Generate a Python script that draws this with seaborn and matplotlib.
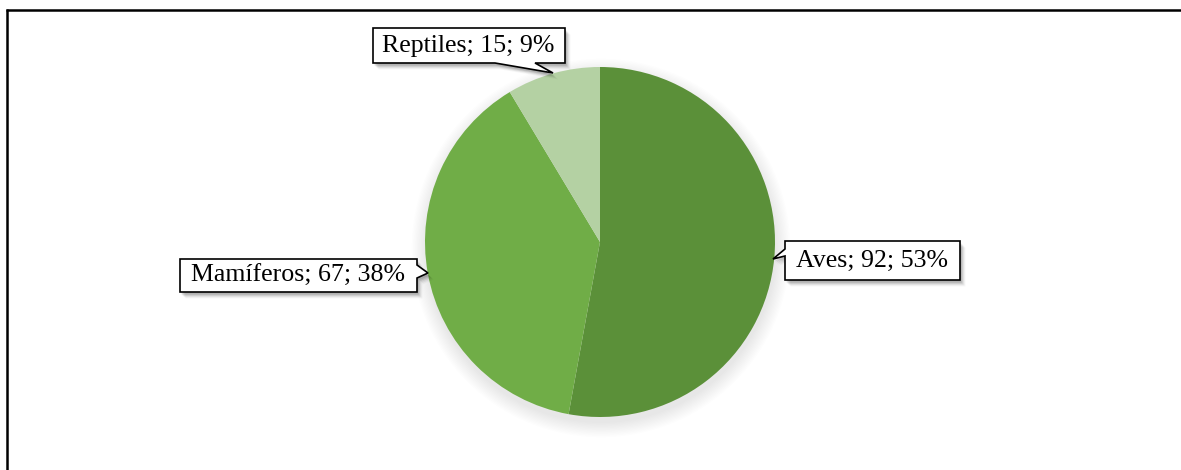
import matplotlib
matplotlib.use("Agg")
import matplotlib.pyplot as plt
from matplotlib.patches import Polygon, Circle
import seaborn as sns

# Species counts by class
categories = ["Aves", "Mamíferos", "Reptiles"]
counts = [92, 67, 15]
percent_labels = ["53%", "38%", "9%"]

sns.set_theme(style="white")
plt.rcParams["font.family"] = ["Liberation Serif", "DejaVu Serif"]

colors = sns.color_palette(["#5b9039", "#70ad47", "#b4d1a3"])

W, H = 1181, 470
fig = plt.figure(figsize=(W / 100, H / 100), dpi=100)
ax = fig.add_axes([0, 0, 1, 1])


def Y(py):
    return H - py


cx, cy, r = 600, 242, 175

# faint soft shadow under the pie
for k in range(12):
    ax.add_patch(Circle((cx + 1, Y(cy + 6)), r + k * 1.3, facecolor="black",
                        alpha=0.008, edgecolor="none", zorder=1))

ax.pie(counts, colors=colors, startangle=90, counterclock=False,
       center=(cx, Y(cy)), radius=r, frame=True,
       wedgeprops=dict(linewidth=0, zorder=2))
ax.set_xlim(0, W)
ax.set_ylim(0, H)
ax.set_aspect("equal")
ax.axis("off")

# callout outlines (pixel coords, y downward) and text centres
callouts = {
    "Reptiles": dict(poly=[(373, 28), (565, 28), (565, 63), (535, 63), (553, 73),
                           (495, 63), (373, 63)], text=(468, 46)),
    "Aves": dict(poly=[(785, 241), (960, 241), (960, 280), (785, 280), (785, 256),
                       (773, 259), (785, 249)], text=(872, 261)),
    "Mamíferos": dict(poly=[(180, 259), (417, 259), (417, 265), (428, 273),
                            (417, 278), (417, 292), (180, 292)], text=(298, 276)),
}

for cat, n, pct in zip(categories, counts, percent_labels):
    c = callouts[cat]
    pts = [(x, Y(y)) for x, y in c["poly"]]
    for k, a in enumerate([0.10, 0.09, 0.07, 0.05, 0.03]):
        off = 1.5 + k
        ax.add_patch(Polygon([(x + off, y - off - 1) for x, y in pts], closed=True,
                             facecolor="black", alpha=a, edgecolor="none", zorder=4))
    ax.add_patch(Polygon(pts, closed=True, facecolor="white", edgecolor="black",
                         linewidth=1.2, zorder=5, joinstyle="miter"))
    tx, ty = c["text"]
    ax.text(tx, Y(ty), f"{cat}; {n}; {pct}", ha="center", va="center",
            fontsize=18.6, color="black", zorder=6)

# frame lines along the top and left edges
ax.plot([6, W], [Y(10), Y(10)], color="black", linewidth=1.8, solid_capstyle="butt", zorder=7)
ax.plot([7, 7], [Y(9), 0], color="black", linewidth=1.8, solid_capstyle="butt", zorder=7)

fig.savefig("out.png", dpi=100, facecolor="white")
